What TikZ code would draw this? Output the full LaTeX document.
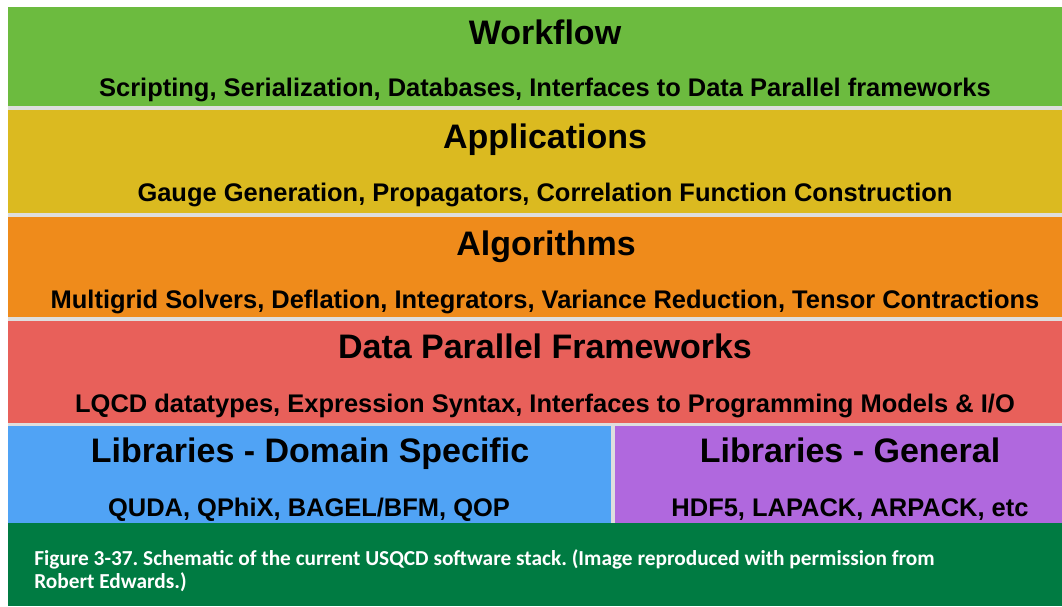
\documentclass[tikz,border=0pt]{standalone}
\usepackage{fontspec}
\setmainfont{Liberation Sans}
\newfontfamily\capfont{Carlito}
\usepackage{xcolor}
\definecolor{wfgreen}{RGB}{108,187,63}
\definecolor{appyellow}{RGB}{219,186,32}
\definecolor{algorange}{RGB}{239,139,27}
\definecolor{dpred}{RGB}{232,96,90}
\definecolor{libblue}{RGB}{80,163,245}
\definecolor{libpurple}{RGB}{176,104,222}
\definecolor{capgreen}{RGB}{0,123,66}
\definecolor{gapgray}{RGB}{222,222,222}
\frenchspacing

\begin{document}
\begin{tikzpicture}[x=0.75pt,y=0.75pt,yscale=-1,xscale=1,
  layertitle/.style={anchor=base,inner sep=0.75pt,font=\fontsize{25.5}{30}\selectfont\bfseries},
  layersub/.style={anchor=base,inner sep=0.75pt,font=\fontsize{19.1}{22}\selectfont\bfseries},
  captext/.style={anchor=base west,inner sep=0.75pt,text=white,font=\capfont\fontsize{16}{19}\selectfont\bfseries}]
\useasboundingbox (0,0) rectangle (1062,606);
\fill[white] (0,0) rectangle (1062,606);

%Shape: Rectangle [gaps between layers]
\fill[gapgray] (8,106) rectangle (1062,523);
%Shape: Rectangle [Workflow]
\fill[wfgreen] (8,7) rectangle (1062,106);
%Shape: Rectangle [Applications]
\fill[appyellow] (8,110) rectangle (1062,213);
%Shape: Rectangle [Algorithms]
\fill[algorange] (8,217) rectangle (1062,317);
%Shape: Rectangle [Data Parallel Frameworks]
\fill[dpred] (8,321) rectangle (1062,423);
%Shape: Rectangle [Libraries - Domain Specific]
\fill[libblue] (8,426) rectangle (611,523);
%Shape: Rectangle [Libraries - General]
\fill[libpurple] (615,426) rectangle (1062,523);
%Shape: Rectangle [caption bar]
\fill[capgreen] (8,523) rectangle (1062,606);

% Text Node
\node[layertitle] (wf) at (545,45) {Workflow};
% Text Node
\node[layersub] (wfsub) at (545,97) {Scripting, Serialization, Databases, Interfaces to Data Parallel frameworks};
% Text Node
\node[layertitle] (app) at (545,148) {Applications};
% Text Node
\node[layersub] (appsub) at (545,201) {Gauge Generation, Propagators, Correlation Function Construction};
% Text Node
\node[layertitle] (alg) at (546,255) {Algorithms};
% Text Node
\node[layersub] (algsub) at (545,308) {Multigrid Solvers, Deflation, Integrators, Variance Reduction, Tensor Contractions};
% Text Node
\node[layertitle] (dpf) at (545,358) {Data Parallel Frameworks};
% Text Node
\node[layersub] (dpfsub) at (545,412) {LQCD datatypes, Expression Syntax, Interfaces to Programming Models \& I/O};
% Text Node
\node[layertitle] (libds) at (310,462) {Libraries - Domain Specific};
% Text Node
\node[layersub] (libdssub) at (309,516) {QUDA, QPhiX, BAGEL/BFM, QOP};
% Text Node
\node[layertitle] (libgen) at (850,462) {Libraries - General};
% Text Node
\node[layersub] (libgensub) at (850,516) {HDF5, LAPACK, ARPACK, etc};

% Text Node
\node[captext] (cap1) at (33,565) {Figure 3-37. Schematic of the current USQCD software stack. (Image reproduced with permission from};
% Text Node
\node[captext] (cap2) at (33,588) {Robert Edwards.)};

\end{tikzpicture}
\end{document}
